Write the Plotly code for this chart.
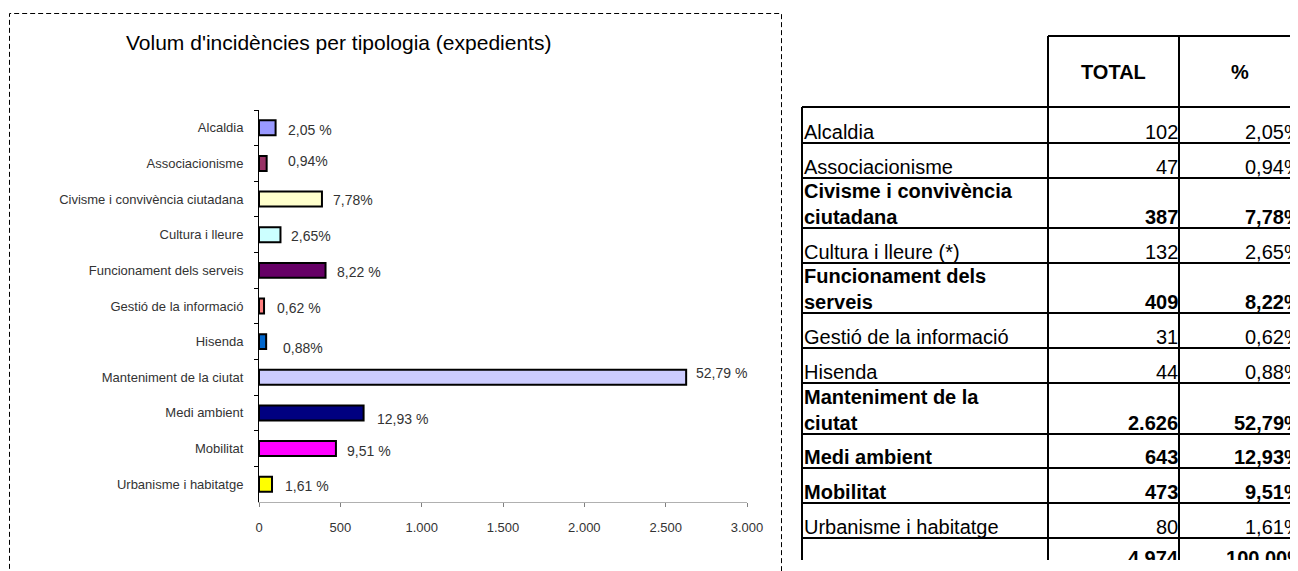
import plotly.graph_objects as go

# ---------------------------------------------------------------------------
# Data
# ---------------------------------------------------------------------------
categories = [
    "Alcaldia", "Associacionisme", "Civisme i convivència ciutadana",
    "Cultura i lleure", "Funcionament dels serveis", "Gestió de la informació",
    "Hisenda", "Manteniment de la ciutat", "Medi ambient", "Mobilitat",
    "Urbanisme i habitatge",
]
counts = [102, 47, 387, 132, 409, 31, 44, 2626, 643, 473, 80]
bar_labels = ["2,05 %", "0,94%", "7,78%", "2,65%", "8,22 %", "0,62 %",
              "0,88%", "52,79 %", "12,93 %", "9,51 %", "1,61 %"]
bar_colors = ["#9999FF", "#993366", "#FFFFCC", "#CCFFFF", "#660066", "#FF8080",
              "#0066CC", "#CCCCFF", "#000080", "#FF00FF", "#FFFF00"]
x_ticks = [0, 500, 1000, 1500, 2000, 2500, 3000]

table_names = [
    "Alcaldia", "Associacionisme", "Civisme i convivència<br>ciutadana",
    "Cultura i lleure (*)", "Funcionament dels<br>serveis", "Gestió de la informació",
    "Hisenda", "Manteniment de la<br>ciutat", "Medi ambient", "Mobilitat",
    "Urbanisme i habitatge",
]
table_bold = [False, False, True, False, True, False, False, True, True, True, False]

# label nudges (px): right, down
label_dx = [10, 19, 9, 9, 9, 11, 15, 8, 11, 9, 11]
label_dy = [2, -2, 1, 1, 2, 2, 6, -4, 6, 2, 2]

# table geometry (page px, from top-left)
row_bottoms = [143, 178, 228, 263, 313, 348, 383, 434, 468, 503, 538]
col_x = [802, 1048, 1179, 1300]

W, H = 1298, 571
OFF = 8                      # page body margin
FW, FH = W - OFF, H - OFF    # figure size
FONT = "Liberation Sans, Arial, sans-serif"


def px(x):
    return (x - OFF) / FW


def py(y):
    return 1 - (y - OFF) / FH


def fmt_int(v):
    return f"{v:,}".replace(",", ".")


def fmt_pct(v, tot):
    return f"{v / tot * 100:.2f}".replace(".", ",") + "%"


total = sum(counts)

fig = go.Figure()

fig.add_trace(go.Bar(
    y=categories, x=counts, orientation="h", width=0.42,
    marker=dict(color=bar_colors, line=dict(color="black", width=2)),
    hoverinfo="skip",
))

# total row of the table, clipped at the bottom edge like the screenshot
fig.add_trace(go.Scatter(
    x=[col_x[2] - 1, col_x[3] + 5], y=[row_bottoms[-1] + 22] * 2,
    mode="text", text=[f"<b>{fmt_int(total)}</b>", "<b>100,00%</b>"],
    textposition="middle left", textfont=dict(family=FONT, size=20, color="black"),
    xaxis="x2", yaxis="y2", cliponaxis=True, hoverinfo="skip",
))

annotations = []
for cat, v, lab, dx, dy in zip(categories, counts, bar_labels, label_dx, label_dy):
    annotations.append(dict(
        x=v, y=cat, xref="x", yref="y", text=lab, showarrow=False,
        xanchor="left", yanchor="middle", xshift=dx, yshift=-dy,
        font=dict(family=FONT, size=14, color="#333333"),
    ))

annotations.append(dict(
    x=px(338), y=py(43), xref="paper", yref="paper",
    text="Volum d'incidències per tipologia (expedients)", showarrow=False,
    xanchor="center", yanchor="middle", font=dict(family=FONT, size=21, color="black"),
))

# table text
tfont = dict(family=FONT, size=20, color="black")
for name, v, b, yb in zip(table_names, counts, table_bold, row_bottoms):
    wrap = (lambda s: f"<b>{s}</b>") if b else (lambda s: s)
    name_txt = "<br>".join(wrap(p) for p in name.split("<br>"))
    annotations.append(dict(x=col_x[0], y=yb, xref="x2", yref="y2", text=name_txt,
                            showarrow=False, xanchor="left", yanchor="bottom",
                            align="left", yshift=-2, font=tfont))
    annotations.append(dict(x=col_x[2], y=yb, xref="x2", yref="y2", text=wrap(fmt_int(v)),
                            showarrow=False, xanchor="right", yanchor="bottom",
                            yshift=-2, xshift=1, font=tfont))
    annotations.append(dict(x=W, y=yb, xref="x2", yref="y2", text=wrap(fmt_pct(v, total)),
                            showarrow=False, xanchor="right", yanchor="bottom",
                            yshift=-2, xshift=6, font=tfont))

annotations.append(dict(x=(col_x[1] + col_x[2]) / 2, y=72, xref="x2", yref="y2",
                        text="<b>TOTAL</b>", showarrow=False, font=tfont))
annotations.append(dict(x=(col_x[2] + col_x[3]) / 2, y=72, xref="x2", yref="y2",
                        text="<b>%</b>", showarrow=False, font=tfont))

# table borders
shapes = []
line = dict(color="black", width=2)
shapes.append(dict(type="line", xref="x2", yref="y2", x0=col_x[1], x1=col_x[3],
                   y0=36, y1=36, line=line))
shapes.append(dict(type="line", xref="x2", yref="y2", x0=col_x[0], x1=col_x[3],
                   y0=107, y1=107, line=line))
for yb in row_bottoms:
    shapes.append(dict(type="line", xref="x2", yref="y2", x0=col_x[0], x1=col_x[3],
                       y0=yb, y1=yb, line=line))
shapes.append(dict(type="line", xref="x2", yref="y2", x0=col_x[0], x1=col_x[0],
                   y0=107, y1=600, line=line))
for xc in col_x[1:3]:
    shapes.append(dict(type="line", xref="x2", yref="y2", x0=xc, x1=xc,
                       y0=36, y1=600, line=line))

# dashed chart frame
shapes.append(dict(type="rect", xref="paper", yref="paper",
                   x0=px(9.5), x1=px(781.5), y0=-0.05, y1=py(13.5),
                   line=dict(color="black", width=1, dash="5px,3px")))

fig.update_layout(
    width=FW, height=FH,
    margin=dict(l=0, r=0, t=0, b=0),
    paper_bgcolor="white", plot_bgcolor="rgba(0,0,0,0)",
    showlegend=False, separators=",.",
    annotations=annotations, shapes=shapes,
    xaxis=dict(
        domain=[px(259), px(747)], anchor="y", range=[0, 3000],
        tickvals=x_ticks, tickformat=",d", showgrid=False, zeroline=False,
        showline=True, linecolor="#b0b0b0", linewidth=1,
        ticks="outside", ticklen=4, tickcolor="#808080",
        tickfont=dict(family=FONT, size=13, color="#333333"),
        ticklabelstandoff=9, automargin=False, fixedrange=True,
    ),
    yaxis=dict(
        domain=[py(502), py(110)], anchor="x", type="category",
        autorange="reversed", showgrid=False, zeroline=False,
        showline=True, linecolor="black", linewidth=1,
        ticks="outside", tickson="boundaries", ticklen=4, tickcolor="black",
        tickfont=dict(family=FONT, size=13, color="#333333"),
        ticklabelstandoff=12, automargin=False, fixedrange=True,
    ),
    xaxis2=dict(domain=[0, 1], range=[OFF, W], anchor="y2", visible=False,
                fixedrange=True),
    yaxis2=dict(domain=[py(560), 1], range=[560, OFF], anchor="x2", visible=False,
                fixedrange=True),
)

fig.write_html("out.html")
